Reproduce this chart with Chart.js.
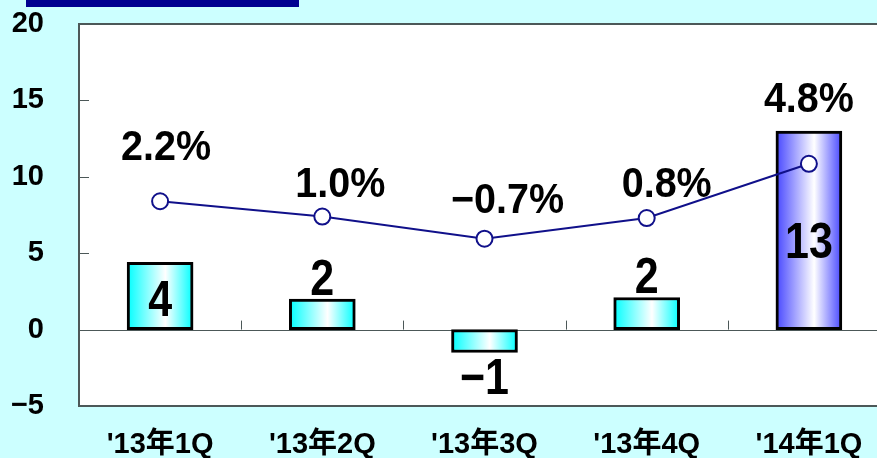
<!DOCTYPE html>
<html>
<head>
<meta charset="utf-8">
<script src="https://cdn.jsdelivr.net/npm/chart.js@4.4.1/dist/chart.umd.min.js"></script>
<style>
  html, body { margin: 0; padding: 0; background: #ccffff; overflow: hidden; }
  #wrap { position: relative; width: 877px; height: 458px; overflow: hidden; }
  #box { position: absolute; left: 0; top: 0; width: 900px; height: 458px; }
  #titleBar { position: absolute; left: 26px; top: 0; width: 273px; height: 7px; background: #000090; z-index: 2; }
</style>
</head>
<body>
<div id="wrap">
  <div id="titleBar"></div>
  <div id="box"><canvas id="chart" width="900" height="458"></canvas></div>
</div>
<script>
const quarters = ["'13年1Q", "'13年2Q", "'13年3Q", "'13年4Q", "'14年1Q"];
const barValues = [4.4, 2.0, -1.5, 2.1, 13.0];
const barLabels = ["4", "2", "\u22121", "2", "13"];
const lineValues = [8.4, 7.4, 5.95, 7.3, 10.85];
const lineLabels = ["2.2%", "1.0%", "\u22120.7%", "0.8%", "4.8%"];
const yTicks = [20, 15, 10, 5, 0, -5];

// where each label sits relative to its mark (pixels)
const barLabelPlace = ["in", "above", "below", "above", "in"];
const barLabelNudge = [6, 0, 0, 0, 14];
const pctLabelLift = [53, 31, 37, 33, 63];
const pctLabelShift = [6, 18, 23, 20, 0];

const BAR_W = 66;
const axisFont = "'Liberation Sans', Arial, 'Noto Sans CJK JP', sans-serif";

function barFill(c) {
  const chart = c.chart;
  const base = c.dataIndex === 4 ? "#4646ff" : "#00ffff";
  if (!chart.chartArea || !chart.scales.x) return base;
  const x = chart.scales.x.getPixelForValue(c.dataIndex);
  const g = chart.ctx.createLinearGradient(x - BAR_W / 2, 0, x + BAR_W / 2, 0);
  g.addColorStop(0, base);
  g.addColorStop(0.58, "#ffffff");
  g.addColorStop(1, base);
  return g;
}

// narrow-looking text: squeeze horizontally
function squeezed(ctx, text, x, y, sx) {
  ctx.save();
  ctx.translate(x, y);
  ctx.scale(sx, 1);
  ctx.fillText(text, 0, 0);
  ctx.restore();
}

const decor = {
  id: "decor",
  beforeDraw(chart) {
    const a = chart.chartArea;
    chart.ctx.save();
    chart.ctx.fillStyle = "#fff";
    chart.ctx.fillRect(a.left, a.top, a.right - a.left, a.bottom - a.top);
    chart.ctx.restore();
  },
  beforeDatasetsDraw(chart) {
    const ctx = chart.ctx;
    const a = chart.chartArea;
    const y0 = chart.scales.y.getPixelForValue(0);
    ctx.save();
    ctx.strokeStyle = "#4c5858";
    ctx.lineWidth = 1;
    ctx.beginPath();
    ctx.moveTo(a.left, Math.round(y0) + 0.5);
    ctx.lineTo(a.right, Math.round(y0) + 0.5);
    const xs = chart.scales.x;
    for (let i = 1; i < quarters.length; i++) {
      const x = Math.round((xs.getPixelForValue(i - 1) + xs.getPixelForValue(i)) / 2) + 0.5;
      ctx.moveTo(x, y0);
      ctx.lineTo(x, y0 - 9);
    }
    yTicks.forEach(v => {
      const y = Math.round(chart.scales.y.getPixelForValue(v)) + 0.5;
      ctx.moveTo(a.left, y);
      ctx.lineTo(a.left + 10, y);
    });
    ctx.stroke();
    ctx.restore();
  },
  afterDatasetsDraw(chart) {
    const ctx = chart.ctx;
    const a = chart.chartArea;
    ctx.save();
    ctx.strokeStyle = "#4c5858";
    ctx.lineWidth = 2;
    ctx.strokeRect(a.left, a.top, a.right - a.left, a.bottom - a.top);
    ctx.fillStyle = "#000";
    ctx.textAlign = "center";
    ctx.textBaseline = "middle";
    // bar value labels
    ctx.font = "bold 50px " + axisFont;
    chart.getDatasetMeta(0).data.forEach((bar, i) => {
      let y;
      if (barLabelPlace[i] === "in") y = (bar.y + bar.base) / 2 + barLabelNudge[i];
      else if (barLabelPlace[i] === "above") y = bar.y - 18;
      else y = bar.y + 28;
      squeezed(ctx, barLabels[i], bar.x, y, 0.86);
    });
    // growth labels
    ctx.font = "bold 42px " + axisFont;
    chart.getDatasetMeta(1).data.forEach((pt, i) => {
      squeezed(ctx, lineLabels[i], pt.x + pctLabelShift[i], pt.y - pctLabelLift[i], 0.94);
    });
    ctx.restore();
  }
};

new Chart(document.getElementById("chart"), {
  data: {
    labels: quarters,
    datasets: [
      {
        type: "bar",
        data: barValues,
        order: 1,
        backgroundColor: barFill,
        borderColor: "#000",
        borderWidth: 3,
        borderSkipped: false,
        barThickness: BAR_W
      },
      {
        type: "line",
        data: lineValues,
        order: 0,
        borderColor: "#10108a",
        borderWidth: 2,
        pointRadius: 8,
        pointBorderWidth: 2,
        pointBackgroundColor: "#fff",
        pointBorderColor: "#10108a",
        tension: 0
      }
    ]
  },
  options: {
    responsive: false,
    animation: false,
    layout: { padding: { top: 24, right: 4, left: 0, bottom: 0 } },
    plugins: { legend: { display: false }, tooltip: { enabled: false } },
    scales: {
      x: {
        grid: { display: false, drawTicks: false },
        border: { display: false },
        ticks: { color: "#000", font: { family: axisFont, size: 29, weight: "bold" }, padding: 22, maxRotation: 0 },
        afterFit(s) { s.height = 52; s.paddingLeft = 0; s.paddingRight = 0; }
      },
      y: {
        min: -5,
        max: 20,
        grid: { display: false, drawTicks: false },
        border: { display: false },
        ticks: { stepSize: 5, color: "#000", font: { family: axisFont, size: 29, weight: "bold" }, padding: 35,
          callback: v => (v < 0 ? "\u2212" + Math.abs(v) : v) },
        afterFit(s) { s.width = 79; s.paddingTop = 0; s.paddingBottom = 0; }
      }
    }
  },
  plugins: [decor]
});
</script>
</body>
</html>
